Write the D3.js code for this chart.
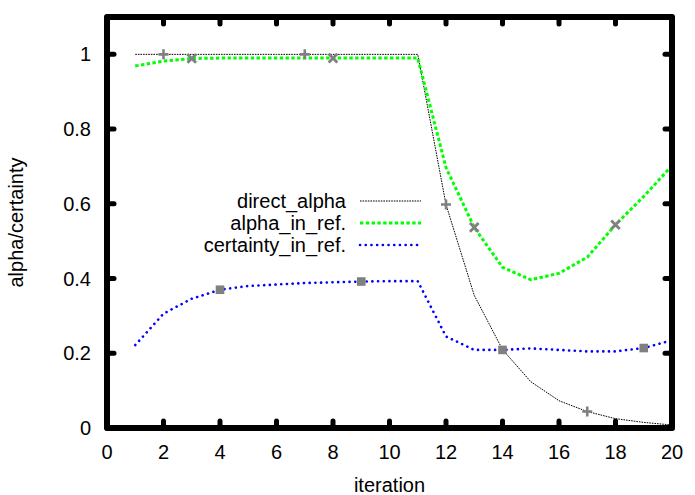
<!DOCTYPE html>
<html>
<head>
<meta charset="utf-8">
<script src="https://cdn.jsdelivr.net/npm/d3@7"></script>
<style>
    body { margin: 0; background: #fff; }
    text { font-family: "Liberation Sans", Arial, sans-serif; fill: #000; }
</style>
</head>
<body>
<svg id="chart" width="695" height="495"></svg>
<script>
// valores
var iterations = [1, 2, 3, 4, 5, 6, 7, 8, 9, 10, 11, 12, 13, 14, 15, 16, 17, 18, 19, 20];
var directAlpha = [1, 1, 1, 1, 1, 1, 1, 1, 1, 1, 1, 0.598, 0.355, 0.21, 0.124, 0.073, 0.044, 0.025, 0.015, 0.008];
var alphaInRef = [0.969, 0.982, 0.989, 0.99, 0.99, 0.99, 0.99, 0.99, 0.99, 0.99, 0.99, 0.697, 0.537, 0.43, 0.397, 0.414, 0.457, 0.544, 0.62, 0.702];
var certaintyInRef = [0.222, 0.306, 0.346, 0.37, 0.38, 0.384, 0.388, 0.39, 0.392, 0.393, 0.393, 0.245, 0.209, 0.209, 0.213, 0.209, 0.205, 0.205, 0.214, 0.235];

var xTicks = [0, 2, 4, 6, 8, 10, 12, 14, 16, 18, 20];
var yTicks = [0, 0.2, 0.4, 0.6, 0.8, 1];

// iteracoes onde aparecem os marcadores de cada serie
var directMarks = [2, 7, 12, 17];
var alphaMarks = [3, 8, 13, 18];
var certaintyMarks = [4, 9, 14, 19];

(function () {
    var series = [
        { id: 'direct', title: 'direct_alpha', values: directAlpha, marks: directMarks,
          color: '#000', width: 1, dash: '1.6,1', cap: 'butt', marker: 'plus' },
        { id: 'alpha', title: 'alpha_in_ref.', values: alphaInRef, marks: alphaMarks,
          color: '#00ff00', width: 3, dash: '3.4,2.4', cap: 'butt', marker: 'cross' },
        { id: 'certainty', title: 'certainty_in_ref.', values: certaintyInRef, marks: certaintyMarks,
          color: '#0000ff', width: 2.6, dash: '0.1,5.6', cap: 'round', marker: 'square' }
    ];

    var svg = d3.select('#chart'),
        pLeft = 107, pRight = 672, pTop = 17, pBottom = 428;

    var x = d3.scaleLinear().domain([0, 20]).range([pLeft, pRight]);
    var y = d3.scaleLinear().domain([0, 1.1]).range([pBottom, pTop]);

    var line = d3.line()
        .x(function (d) { return x(d.x); })
        .y(function (d) { return y(d.y); });

    // Curvas
    series.forEach(function (s) {
        var pts = iterations.map(function (it, i) { return { x: it, y: s.values[i] }; });
        s.points = pts;

        svg.append('path')
            .datum(pts)
            .attr('d', line)
            .attr('fill', 'none')
            .attr('stroke', s.color)
            .attr('stroke-width', s.width)
            .attr('stroke-linecap', s.cap)
            .attr('stroke-dasharray', s.dash);
    });

    // Marcadores (cinza)
    var gray = '#808080';
    series.forEach(function (s) {
        var g = svg.append('g').attr('class', 'marks-' + s.id);
        s.points.filter(function (d) { return s.marks.indexOf(d.x) >= 0; })
            .forEach(function (d) {
                var cx = x(d.x), cy = y(d.y), r = 5;
                if (s.marker === 'plus') {
                    g.append('path')
                        .attr('d', 'M' + (cx - r) + ',' + cy + 'H' + (cx + r) + 'M' + cx + ',' + (cy - r) + 'V' + (cy + r))
                        .attr('stroke', gray).attr('stroke-width', 2.6).attr('fill', 'none');
                } else if (s.marker === 'cross') {
                    r = 4.3;
                    g.append('path')
                        .attr('d', 'M' + (cx - r) + ',' + (cy - r) + 'L' + (cx + r) + ',' + (cy + r) +
                                   'M' + (cx - r) + ',' + (cy + r) + 'L' + (cx + r) + ',' + (cy - r))
                        .attr('stroke', gray).attr('stroke-width', 2.8).attr('fill', 'none');
                } else {
                    r = 4.3;
                    g.append('rect')
                        .attr('x', cx - r).attr('y', cy - r)
                        .attr('width', 2 * r).attr('height', 2 * r)
                        .attr('fill', gray);
                }
            });
    });

    // Ticks para dentro, espelhados
    var tickLen = 7;
    var ticks = svg.append('g')
        .attr('stroke', '#000').attr('stroke-width', 5).attr('stroke-linecap', 'round');

    xTicks.forEach(function (t) {
        ticks.append('line').attr('x1', x(t)).attr('x2', x(t)).attr('y1', pBottom).attr('y2', pBottom - tickLen);
        ticks.append('line').attr('x1', x(t)).attr('x2', x(t)).attr('y1', pTop).attr('y2', pTop + tickLen);
    });
    yTicks.forEach(function (t) {
        ticks.append('line').attr('x1', pLeft).attr('x2', pLeft + tickLen).attr('y1', y(t)).attr('y2', y(t));
        ticks.append('line').attr('x1', pRight).attr('x2', pRight - tickLen).attr('y1', y(t)).attr('y2', y(t));
    });

    // Borda
    svg.append('rect')
        .attr('x', pLeft).attr('y', pTop)
        .attr('width', pRight - pLeft).attr('height', pBottom - pTop)
        .attr('fill', 'none')
        .attr('stroke', '#000').attr('stroke-width', 6).attr('stroke-linejoin', 'round');

    // Labels dos ticks
    var fontSize = 20;
    svg.append('g').selectAll('text')
        .data(xTicks).enter().append('text')
        .attr('x', function (d) { return x(d); })
        .attr('y', 459)
        .attr('text-anchor', 'middle')
        .style('font-size', fontSize + 'px')
        .text(function (d) { return d; });

    svg.append('g').selectAll('text')
        .data(yTicks).enter().append('text')
        .attr('x', 91)
        .attr('y', function (d) { return y(d) + 7; })
        .attr('text-anchor', 'end')
        .style('font-size', fontSize + 'px')
        .text(function (d) { return d; });

    // Titulos dos eixos
    svg.append('text')
        .attr('x', (pLeft + pRight) / 2).attr('y', 492)
        .attr('text-anchor', 'middle')
        .style('font-size', fontSize + 'px')
        .text('iteration');

    svg.append('text')
        .attr('transform', 'translate(23,' + (pTop + pBottom) / 2 + ') rotate(-90)')
        .attr('text-anchor', 'middle')
        .style('font-size', fontSize + 'px')
        .text('alpha/certainty');

    // Legenda
    var legend = svg.selectAll('.legend')
        .data(series)
        .enter().append('g')
        .attr('class', 'legend')
        .attr('transform', function (d, i) { return 'translate(0,' + (201 + i * 22) + ')'; });

    legend.append('text')
        .attr('x', 346).attr('y', 7)
        .attr('text-anchor', 'end')
        .style('font-size', fontSize + 'px')
        .text(function (d) { return d.title; });

    legend.append('line')
        .attr('x1', 360).attr('x2', 421).attr('y1', 0).attr('y2', 0)
        .attr('stroke', function (d) { return d.color; })
        .attr('stroke-width', function (d) { return d.width; })
        .attr('stroke-linecap', function (d) { return d.cap; })
        .attr('stroke-dasharray', function (d) { return d.dash; });
})();
</script>
</body>
</html>
